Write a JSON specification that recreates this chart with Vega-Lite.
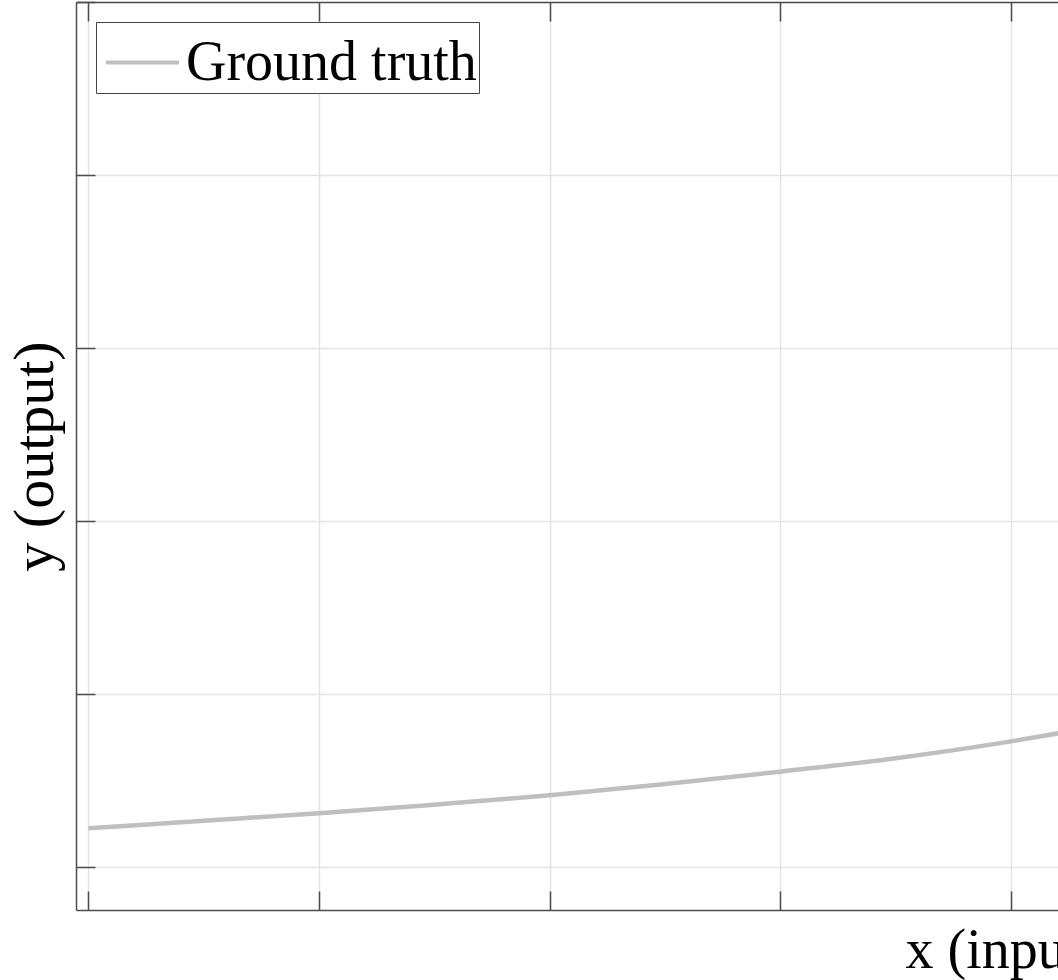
{
  "$schema": "https://vega.github.io/schema/vega-lite/v6.json",
  "autosize": {"type": "none"},
  "padding": {"left": 76, "top": 2, "right": 0, "bottom": 70},
  "width": 982,
  "height": 908,
  "background": "white",
  "config": {
    "view": {"stroke": null},
    "font": "Liberation Serif"
  },
  "data": {
    "values": [
      {"x": 0, "y": 0.222, "series": "Ground truth"},
      {"x": 0.5, "y": 0.266, "series": "Ground truth"},
      {"x": 1, "y": 0.31, "series": "Ground truth"},
      {"x": 1.5, "y": 0.359, "series": "Ground truth"},
      {"x": 2, "y": 0.413, "series": "Ground truth"},
      {"x": 2.5, "y": 0.479, "series": "Ground truth"},
      {"x": 3, "y": 0.55, "series": "Ground truth"},
      {"x": 3.5, "y": 0.628, "series": "Ground truth"},
      {"x": 4, "y": 0.725, "series": "Ground truth"},
      {"x": 4.25, "y": 0.782, "series": "Ground truth"}
    ]
  },
  "resolve": {"axis": {"x": "independent"}},
  "layer": [
    {
      "mark": {"type": "line", "strokeWidth": 4.5, "interpolate": "monotone", "clip": true},
      "encoding": {
        "x": {
          "field": "x", "type": "quantitative",
          "scale": {"domain": [-0.0533, 4.203], "nice": false, "zero": false},
          "axis": {
            "orient": "bottom", "values": [0, 1, 2, 3, 4], "labels": false,
            "grid": true, "gridColor": "#e3e3e3", "gridWidth": 1.5,
            "domainColor": "#4d4d4d", "domainWidth": 1.5,
            "tickColor": "#4d4d4d", "tickWidth": 1.5, "tickSize": -19,
            "title": "x (input)", "titleFont": "Liberation Serif", "titleFontSize": 56,
            "titleFontWeight": "normal", "titleColor": "#000000",
            "titleAnchor": "start", "titleAlign": "left", "titleBaseline": "alphabetic",
            "titleX": 829, "titleY": 57
          }
        },
        "y": {
          "field": "y", "type": "quantitative",
          "scale": {"domain": [-0.25, 5], "nice": false, "zero": false},
          "axis": {
            "values": [0, 1, 2, 3, 4, 5], "labels": false,
            "grid": true, "gridColor": "#e3e3e3", "gridWidth": 1.5,
            "domainColor": "#4d4d4d", "domainWidth": 1.5,
            "tickColor": "#4d4d4d", "tickWidth": 1.5, "tickSize": -19,
            "title": "y (output)", "titleFont": "Liberation Serif", "titleFontSize": 58,
            "titleFontWeight": "normal", "titleColor": "#000000",
            "titleX": -24, "titleY": 454, "titleAngle": 270, "titleBaseline": "alphabetic", "titleAlign": "center"
          }
        },
        "color": {
          "field": "series", "type": "nominal",
          "scale": {"range": ["#bfbfbf"]},
          "legend": {
            "title": null, "orient": "top-left", "offset": 20,
            "symbolType": "stroke", "symbolSize": 5329, "symbolStrokeWidth": 4,
            "symbolOffset": 6,
            "labelFont": "Liberation Serif", "labelFontSize": 56, "labelColor": "#000000",
            "labelLimit": 0, "labelOffset": 5, "padding": 2,
            "strokeColor": "#444444", "fillColor": "#ffffff", "cornerRadius": 0
          }
        }
      }
    },
    {
      "mark": {"type": "line", "opacity": 0, "clip": true},
      "encoding": {
        "x": {
          "field": "x", "type": "quantitative",
          "axis": {
            "orient": "top", "values": [0, 1, 2, 3, 4], "labels": false, "grid": false,
            "domainColor": "#4d4d4d", "domainWidth": 1.5,
            "tickColor": "#4d4d4d", "tickWidth": 1.5, "tickSize": -19, "title": null
          }
        },
        "y": {"field": "y", "type": "quantitative"}
      }
    }
  ]
}
